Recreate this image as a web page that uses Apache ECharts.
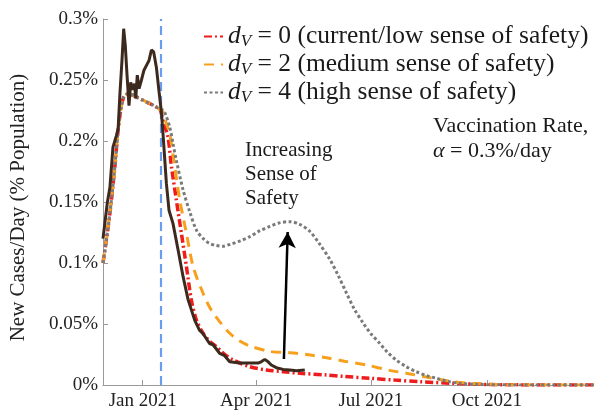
<!DOCTYPE html>
<html>
<head>
<meta charset="utf-8">
<script src="https://cdn.jsdelivr.net/npm/echarts@6/dist/echarts.min.js"></script>
<style>html,body{margin:0;padding:0;background:#fff}#c{width:594px;height:412px}</style>
</head>
<body>
<div id="c"></div>
<script>
// x values: days relative to 1 Jan 2021; y values: new cases/day in % of population
const tickDays = [0, 90, 181, 273];
const tickLabels = ['Jan 2021', 'Apr 2021', 'Jul 2021', 'Oct 2021'];
const vaccStartDay = 14.3; // vertical dashed marker (mid Jan 2021)

const obsDay = [-31.5,-28,-26,-23.6,-21,-19.5,-18,-16.5,-15.1,-13.8,-12.5,-10.9,-9.5,-8,-6.5,-5.5,-4.3,-2.9,-1,1,3,5,6.9,8.7,10.9,13,14.8,16.1,18.8,20.9,24,28,32,36,41.3,45,47.9,53,55.8,61,65,69,77,85,91.5,94,96.8,99.5,102,106,111.4,116.7,122,128.6];
const obsVal = [0.120,0.150,0.162,0.195,0.204,0.210,0.240,0.265,0.292,0.278,0.255,0.229,0.248,0.242,0.247,0.235,0.254,0.243,0.250,0.258,0.262,0.266,0.2746,0.273,0.260,0.240,0.224,0.206,0.165,0.143,0.1325,0.111,0.089,0.070,0.053,0.045,0.042,0.034,0.033,0.026,0.024,0.019,0.018,0.018,0.018,0.019,0.021,0.019,0.0164,0.0142,0.0128,0.0123,0.0117,0.0123];

const earlyDay = [-31.5,-28,-25,-22,-19.5,-17,-15,-12,-8,-4,0,4,8,12,14];
const earlyVal = [0.100,0.125,0.150,0.180,0.209,0.228,0.236,0.2385,0.2377,0.2355,0.2336,0.2315,0.2295,0.227,0.2254];

const d0Day = [16,20,22.8,26.7,30.7,34.7,38.6,42.6,47.9,53,58.5,64,71.7,85,98.2,111.4,124.6,145.8,160,180,200,220,246,270,300,358];
const d0Val = [0.217,0.2035,0.179,0.1516,0.1243,0.097,0.0697,0.0533,0.0424,0.036,0.0314,0.026,0.0205,0.015,0.0123,0.0109,0.0096,0.0082,0.007,0.0055,0.004,0.0027,0.0014,0.0005,0.0001,0];

const d2Day = [16,18.5,21.4,25.4,29.4,34.7,40,47.9,54,61,69,77,85,100.8,116.7,130,148,160,177.5,196,210,225,246,262,280,310,358];
const d2Val = [0.224,0.215,0.206,0.179,0.1516,0.1243,0.097,0.0752,0.062,0.052,0.0424,0.036,0.032,0.0275,0.0265,0.025,0.0219,0.0195,0.0164,0.012,0.0095,0.0065,0.0027,0.0012,0.0004,0.0001,0];

const d4Day = [16,18,21.4,24,26.7,32,37.3,42.6,48,53,58,63.7,70,77,84.9,93,100.8,108,116.7,124,132.5,140,148.4,155,161.7,168,175,181,188,194,201,209,217,225,233,242,251.6,265,290,358];
const d4Val = [0.2254,0.222,0.2117,0.198,0.184,0.160,0.142,0.127,0.120,0.116,0.1145,0.1138,0.1155,0.118,0.1216,0.1265,0.130,0.1328,0.1339,0.132,0.126,0.116,0.103,0.090,0.0752,0.062,0.0506,0.042,0.0342,0.027,0.0205,0.015,0.0109,0.0078,0.0055,0.003,0.0014,0.0005,0.0001,0];

const arrowFrom = [112, 0.0213];
const arrowTo = [115, 0.1254];

const legendNames = [
  '{d|d}{v|V} = 0 (current/low sense of safety)',
  '{d|d}{v|V} = 2 (medium sense of safety)',
  '{d|d}{v|V} = 4 (high sense of safety)'
];

const zip = (xs, ys) => xs.map((x, i) => [x, ys[i]]);
const SERIF = 'Liberation Serif';

const chart = echarts.init(document.getElementById('c'), null, {renderer: 'canvas'});
chart.setOption({
  animation: false,
  backgroundColor: '#fff',
  textStyle: {fontFamily: SERIF},
  grid: {left: 103, right: 0, top: 19, bottom: 27, containLabel: false},
  xAxis: {
    type: 'value', min: -31.5, max: 358,
    splitLine: {show: false},
    axisLine: {show: true, onZero: false, lineStyle: {color: '#9a9a9a', width: 1}},
    axisTick: {show: true, inside: true, length: 5, customValues: tickDays, lineStyle: {color: '#9a9a9a'}},
    axisLabel: {
      show: true, customValues: tickDays, margin: 7,
      fontFamily: SERIF, fontSize: 19, color: '#222',
      formatter: v => tickLabels[tickDays.indexOf(v)] || ''
    }
  },
  yAxis: {
    type: 'value', min: 0, max: 0.3, interval: 0.05,
    splitLine: {show: false},
    axisLine: {show: true, onZero: false, lineStyle: {color: '#9a9a9a', width: 1}},
    axisTick: {show: true, inside: true, length: 5, lineStyle: {color: '#9a9a9a'}},
    axisLabel: {
      margin: 5, fontFamily: SERIF, fontSize: 19, color: '#222',
      formatter: v => parseFloat(v.toFixed(2)) + '%'
    },
    name: 'New Cases/Day (% Population)',
    nameLocation: 'middle', nameGap: 74, nameRotate: 90,
    nameTextStyle: {fontFamily: SERIF, fontSize: 21, color: '#222', padding: [0, 11, 0, 0]}
  },
  legend: {
    orient: 'vertical', left: 198, top: 18, itemWidth: 19, itemHeight: 10, itemGap: 1,
    data: legendNames,
    itemStyle: {opacity: 0},
    textStyle: {
      fontFamily: SERIF, fontSize: 25.5, color: '#1a1a1a', lineHeight: 27,
      rich: {
        d: {fontFamily: SERIF, fontSize: 25.5, fontStyle: 'italic', lineHeight: 27},
        v: {fontFamily: SERIF, fontSize: 17, fontStyle: 'italic', lineHeight: 17, padding: [10, 0, 0, 0]}
      }
    }
  },
  graphic: [
    {type: 'text', left: 245, top: 138, silent: true,
     style: {text: 'Increasing\nSense of\nSafety', fontFamily: SERIF, fontSize: 21, lineHeight: 24, fill: '#1a1a1a'}},
    {type: 'text', left: 433, top: 114, silent: true,
     style: {text: 'Vaccination Rate,\n{a|α} = 0.3%/day', fontFamily: SERIF, fontSize: 22, lineHeight: 25, fill: '#1a1a1a',
       rich: {a: {fontFamily: SERIF, fontSize: 22, fontStyle: 'italic', lineHeight: 25}}}}
  ],
  series: [
    {
      name: legendNames[0], type: 'line', symbol: 'none', smooth: 0.3, z: 3,
      data: zip(earlyDay.concat(d0Day), earlyVal.concat(d0Val)),
      lineStyle: {color: '#ee1c1c', width: 3.5, type: [8, 3, 2, 3]},
      itemStyle: {color: '#ee1c1c'},
      markLine: {
        silent: true, symbol: ['none', 'none'], label: {show: false},
        lineStyle: {color: '#6a9cf0', width: 2.2, type: [9, 5]},
        data: [{xAxis: vaccStartDay}]
      }
    },
    {
      name: legendNames[1], type: 'line', symbol: 'none', smooth: 0.3, z: 4,
      data: zip(earlyDay.concat(d2Day), earlyVal.concat(d2Val)),
      lineStyle: {color: '#f7a01e', width: 3, type: [10, 7]},
      itemStyle: {color: '#f7a01e'}
    },
    {
      name: legendNames[2], type: 'line', symbol: 'none', smooth: 0.3, z: 5,
      data: zip(earlyDay.concat(d4Day), earlyVal.concat(d4Val)),
      lineStyle: {color: '#7a7a7a', width: 3, type: [3, 2.5]},
      itemStyle: {color: '#7a7a7a'}
    },
    {
      name: 'observed', type: 'line', symbol: 'none', z: 6,
      data: zip(obsDay, obsVal),
      lineStyle: {color: '#3d2a1e', width: 3},
      itemStyle: {color: '#3d2a1e'},
      markLine: {
        silent: true, symbol: ['none', 'arrow'], symbolSize: [13, 16], label: {show: false},
        lineStyle: {color: '#000', width: 2.5, type: 'solid'},
        data: [[{coord: arrowFrom}, {coord: arrowTo}]]
      }
    }
  ]
});
</script>
</body>
</html>
